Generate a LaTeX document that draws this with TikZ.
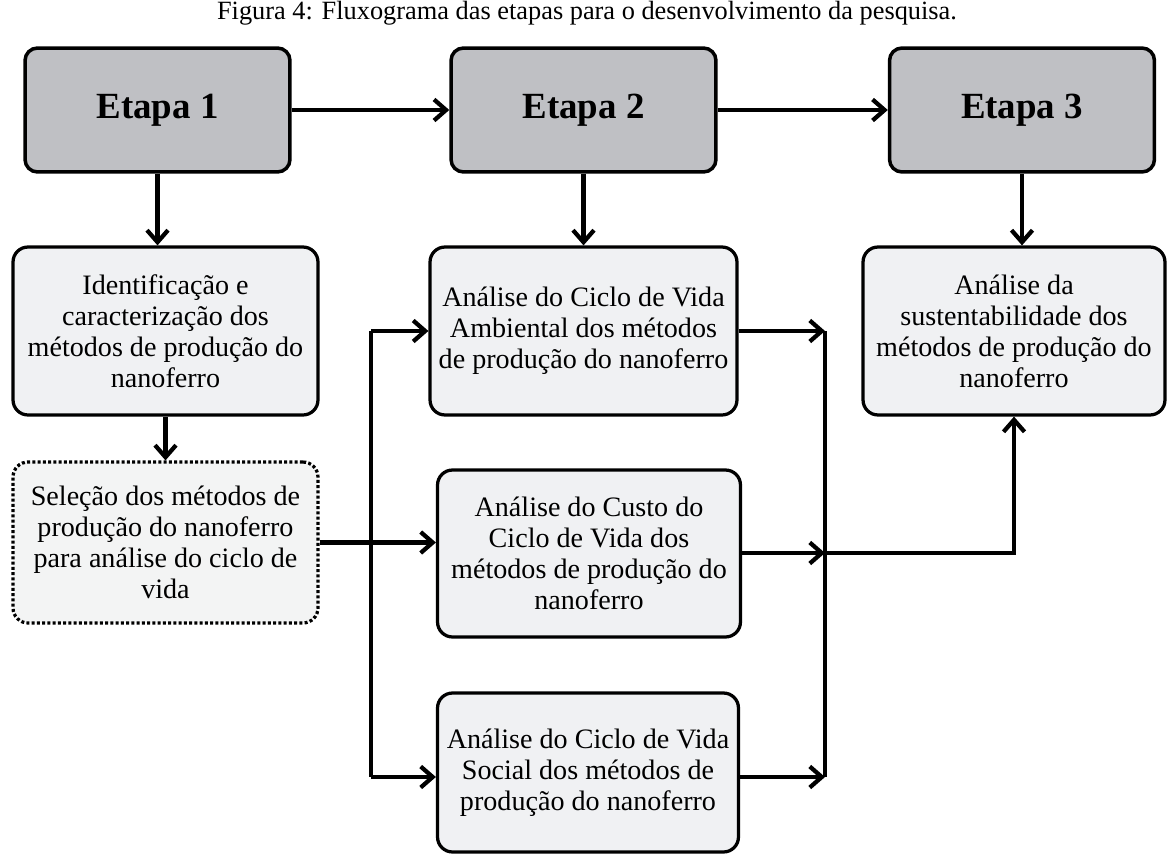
\documentclass[tikz,border=0pt]{standalone}
\usepackage{fontspec}
\setmainfont{Liberation Serif}
\usetikzlibrary{arrows.meta}
\definecolor{etapagray}{RGB}{191,192,196}
\definecolor{boxgray}{RGB}{240,241,243}
\definecolor{selgray}{RGB}{243,244,244}

\begin{document}
\begin{tikzpicture}[x=0.02cm, y=-0.02cm]
        \tikzstyle{etapa}=[draw, line width=0.07cm, rounded corners=0.25cm, fill=etapagray, minimum width=5.3cm, minimum height=2.48cm, font=\fontsize{21}{24}\selectfont\bfseries]
        \tikzstyle{caixa}=[draw, line width=0.065cm, rounded corners=0.3cm, fill=boxgray, align=center, inner sep=0pt, font=\fontsize{16}{17.6}\selectfont]
        \tikzstyle{seta}=[line width=0.085cm, -{Straight Barb[length=0.24cm,width=0.42cm]}]
        \tikzstyle{linha}=[line width=0.085cm]

        \useasboundingbox (0,0) rectangle (1173,855);

        \node[font=\fontsize{15}{17}\selectfont] (titulo) at (587,13) {Figura 4: Fluxograma das etapas para o desenvolvimento da pesquisa.};

        \node[etapa] (e1) at (157.5,110) {Etapa 1};
        \node[etapa] (e2) at (583.5,110) {Etapa 2};
        \node[etapa] (e3) at (1022,110) {Etapa 3};

        \node[caixa, minimum width=6.1cm, minimum height=3.36cm]  (ident) at (165.5,331) {Identificação e\\caracterização dos\\métodos de produção do\\nanoferro};
        \node[caixa, minimum width=6.1cm, minimum height=3.22cm, fill=selgray, dash pattern=on 0.06cm off 0.045cm] (sel) at (165.5,542.5) {Seleção dos métodos de\\produção do nanoferro\\para análise do ciclo de\\vida};
        \node[caixa, minimum width=6.14cm, minimum height=3.36cm] (amb) at (583.5,331) {Análise do Ciclo de Vida\\Ambiental dos métodos\\de produção do nanoferro};
        \node[caixa, minimum width=6.06cm, minimum height=3.34cm] (custo) at (589,553.5) {Análise do Custo do\\Ciclo de Vida dos\\métodos de produção do\\nanoferro};
        \node[caixa, minimum width=6.02cm, minimum height=3.18cm] (soc) at (588,772.5) {Análise do Ciclo de Vida\\Social dos métodos de\\produção do nanoferro};
        \node[caixa, minimum width=6.04cm, minimum height=3.36cm] (sust) at (1014,331) {Análise da\\sustentabilidade dos\\métodos de produção do\\nanoferro};

        \coordinate (bt) at (371,331);
        \coordinate (bb) at (371,777);
        \coordinate (jt) at (825,331);
        \coordinate (jm) at (825,553);
        \coordinate (jb) at (825,777);

        % etapas
        \draw[seta] (e1) -- (e2);
        \draw[seta] (e2) -- (e3);
        \draw[seta] (e1.south) -- (e1.south |- ident.north);
        \draw[seta] (e2.south) -- (e2.south |- amb.north);
        \draw[seta] (e3.south) -- (e3.south |- sust.north);
        \draw[seta] (ident.south) -- (sel.north);

        % ramos das analises
        \draw[linha] (bt) -- (bb);
        \draw[seta] (bt) -- (amb.west);
        \draw[seta] (sel.east) -- (sel.east -| custo.west);
        \draw[seta] (bb) -- (bb -| soc.west);

        \draw[linha] (jt) -- (jb);
        \draw[seta] (amb.east) -- (jt);
        \draw[seta] (custo.east |- jm) -- (jm);
        \draw[seta] (soc.east |- jb) -- (jb);
        \draw[seta] (jm) -| (sust.south);
    \end{tikzpicture}
\end{document}
